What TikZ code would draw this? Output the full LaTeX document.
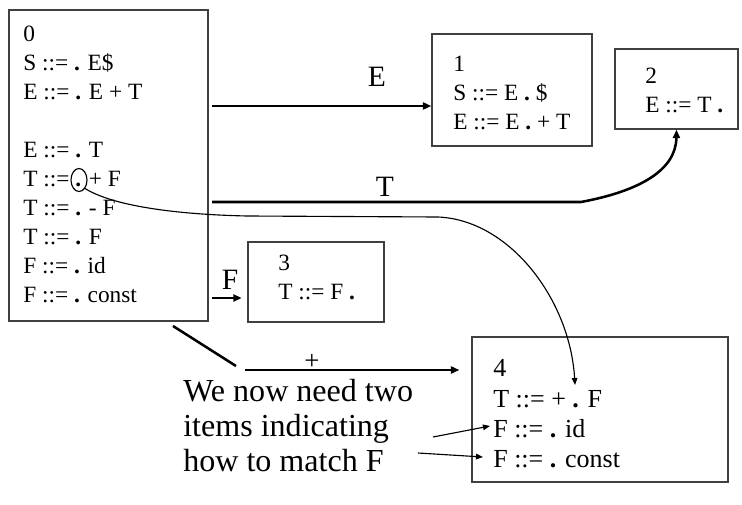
\documentclass[tikz,border=0pt]{standalone}
\usepackage{fontspec}
\setmainfont{Liberation Serif}
\usetikzlibrary{arrows.meta,shapes.geometric}
\newcommand{\bdot}{\textbf{.}}

\begin{document}
\begin{tikzpicture}[x=0.025cm, y=-0.025cm, >={Triangle[length=6pt,width=5pt]}]
\tikzstyle{state}=[draw=black!75, line width=0.9pt, rectangle, inner sep=0pt]
\tikzstyle{items}=[anchor=north west, inner sep=0pt, align=left, font=\fontsize{16.6}{20.6}\selectfont]
\tikzstyle{note}=[anchor=north west, inner sep=0pt, align=left, font=\fontsize{22.8}{24.8}\selectfont]
\tikzstyle{trans}=[line width=1.8pt]
\tikzstyle{link}=[line width=0.8pt, >={Triangle[length=5pt,width=4pt]}]
\tikzstyle{lbl}=[inner sep=0pt, font=\fontsize{21}{24}\selectfont]
\useasboundingbox (0,0) rectangle (742,505);
% item sets
\node[state, minimum width=4.975cm, minimum height=7.775cm](s0) at (108.5,165.5) {};
\node[state, minimum width=4.0cm, minimum height=2.8cm](s1) at (512,90) {};
\node[state, minimum width=3.075cm, minimum height=2.0cm](s2) at (676.5,89) {};
\node[state, minimum width=3.4cm, minimum height=2.0cm](s3) at (316,282) {};
\node[state, minimum width=6.4cm, minimum height=3.625cm](s4) at (600,409.5) {};
\node[items](i0) at (23,25.5) {0\\ S ::= \bdot{} E\$\\ E ::= \bdot{} E + T\\ ~\\ E ::= \bdot{} T\\
  T ::= \bdot{} + F\\ T ::= \bdot{} - F\\ T ::= \bdot{} F\\ F ::= \bdot{} id\\ F ::= \bdot{} const};
\node[items](i1) at (453,55.5) {1\\ S ::= E \bdot{} \$\\ E ::= E \bdot{} + T};
\node[items](i2) at (645,67.5) {2\\ E ::= T \bdot};
\node[items](i3) at (278,254.5) {3\\ T ::= F \bdot};
\node[items, font=\fontsize{18.5}{21.4}\selectfont](i4) at (493,359.5) {4\\ T ::= + \bdot{} F\\ F ::= \bdot{} id\\ F ::= \bdot{} const};
% transitions
\coordinate (e0) at (212,106);
\draw[trans,->] (e0) -- (e0 -| s1.west);
\node[lbl](le) at (377,77) {E};
\coordinate (t0) at (212,202);
\coordinate (t1) at (581,202);
\draw[trans,->] (t0) -- (t1) .. controls (640,191) and (676,170) .. (s2.south);
\node[lbl](lt) at (385,187) {T};
\coordinate (f0) at (212,298);
\draw[trans,->,shorten >=4pt] (f0) -- (f0 -| s3.west);
\node[lbl](lf) at (230,280) {F};
\coordinate (p0) at (173,326);
\coordinate (p1) at (236,366);
\coordinate (p2) at (245,370);
\draw[trans] (p0) -- (p1);
\draw[trans,->,shorten >=8.5pt] (p2) -- (p2 -| s4.west);
\node[lbl, font=\fontsize{19}{20}\selectfont](lp) at (312,362) {+};
% the marked dot and where it goes
\node[draw, ellipse, line width=0.8pt, inner sep=0pt, minimum width=0.4cm, minimum height=0.575cm](mark) at (79,180) {};
\coordinate (tgt) at (575,385);
\draw[link,->] (mark.south east) .. controls (120,210) and (200,215) .. (247,216)
  -- (438,217) .. controls (510,220) and (570,300) .. (tgt);
% remark
\node[note](rem) at (183,379) {We now need two\\ items indicating\\ how to match F};
\coordinate (n1) at (433,437);
\coordinate (n2) at (418,453);
\coordinate (a1) at (490,426);
\coordinate (a2) at (483,457);
\draw[link,->] (n1) -- (a1);
\draw[link,->] (n2) -- (a2);
\end{tikzpicture}
\end{document}
